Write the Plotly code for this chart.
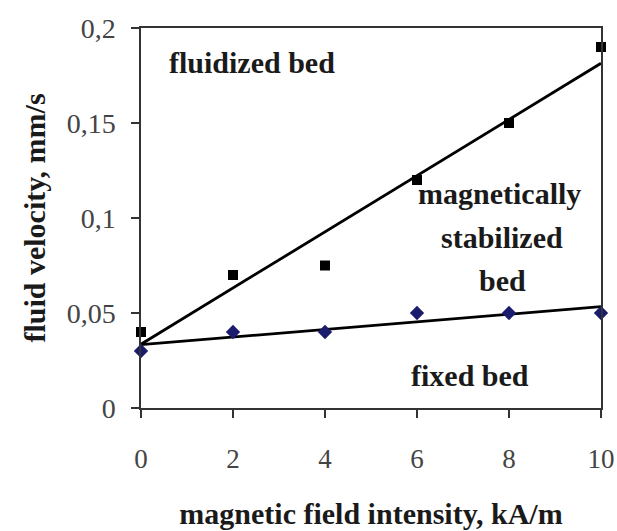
import numpy as np
import plotly.graph_objects as go

# Data
field_kAm = [0, 2, 4, 6, 8, 10]
fluidization_velocity = [0.04, 0.07, 0.075, 0.12, 0.15, 0.19]
stabilization_velocity = [0.03, 0.04, 0.04, 0.05, 0.05, 0.05]
y_tick_vals = [0, 0.05, 0.1, 0.15, 0.2]
y_tick_text = ["0", "0,05", "0,1", "0,15", "0,2"]
x_tick_vals = [0, 2, 4, 6, 8, 10]

SERIF = "Liberation Serif, Times New Roman, serif"

def linfit(x, y):
    k, b = np.polyfit(np.array(x, float), np.array(y, float), 1)
    xs = np.array([min(x), max(x)], float)
    return xs, k * xs + b

fig = go.Figure()

fx, fy = linfit(field_kAm, fluidization_velocity)
sx, sy = linfit(field_kAm, stabilization_velocity)

fig.add_trace(go.Scatter(x=fx, y=fy, mode="lines",
                         line=dict(color="black", width=2.8),
                         cliponaxis=False, showlegend=False))
fig.add_trace(go.Scatter(x=sx, y=sy, mode="lines",
                         line=dict(color="black", width=2.8),
                         cliponaxis=False, showlegend=False))
fig.add_trace(go.Scatter(x=field_kAm, y=fluidization_velocity, mode="markers",
                         marker=dict(symbol="square", size=10, color="black"),
                         cliponaxis=False, showlegend=False))
fig.add_trace(go.Scatter(x=field_kAm, y=stabilization_velocity, mode="markers",
                         marker=dict(symbol="diamond", size=11, color="#1c1c6e"),
                         cliponaxis=False, showlegend=False))

ann_font = dict(family=SERIF, size=30, color="#1a1a1a")
labels = [
    ("<b>fluidized bed</b>", 2.42, 0.182),
    ("<b>magnetically</b>", 7.8, 0.113),
    ("<b>stabilized</b>", 7.85, 0.090),
    ("<b>bed</b>", 7.85, 0.067),
    ("<b>fixed bed</b>", 7.15, 0.017),
]
for txt, xx, yy in labels:
    fig.add_annotation(x=xx, y=yy, text=txt, showarrow=False,
                       font=ann_font, xanchor="center", yanchor="middle")

fig.update_layout(
    width=617, height=531,
    margin=dict(l=141, r=16, t=28, b=123),
    paper_bgcolor="white", plot_bgcolor="white",
    showlegend=False,
)
fig.update_xaxes(
    range=[0, 10], tickvals=x_tick_vals, automargin=False,
    ticklabeloverflow="allow",
    ticks="outside", ticklen=8, tickwidth=1.5, tickcolor="#333",
    showline=True, linecolor="#333", linewidth=1.5, mirror=True,
    showgrid=False, zeroline=False,
    tickfont=dict(family=SERIF, size=27, color="#444"),
    ticklabelstandoff=18,
    title=dict(text="<b>magnetic field intensity, kA/m</b>",
               font=dict(family=SERIF, size=30, color="#1a1a1a"), standoff=30),
)
fig.update_yaxes(
    range=[0, 0.2], tickvals=y_tick_vals, ticktext=y_tick_text, automargin=False,
    ticks="outside", ticklen=8, tickwidth=1.5, tickcolor="#333",
    showline=True, linecolor="#333", linewidth=1.5, mirror=True,
    showgrid=False, zeroline=False,
    tickfont=dict(family=SERIF, size=28, color="#444"),
    ticklabelstandoff=10,
    title=dict(text="<b>fluid velocity, mm/s</b>",
               font=dict(family=SERIF, size=30, color="#1a1a1a"), standoff=12),
)

fig.write_html("out.html")
